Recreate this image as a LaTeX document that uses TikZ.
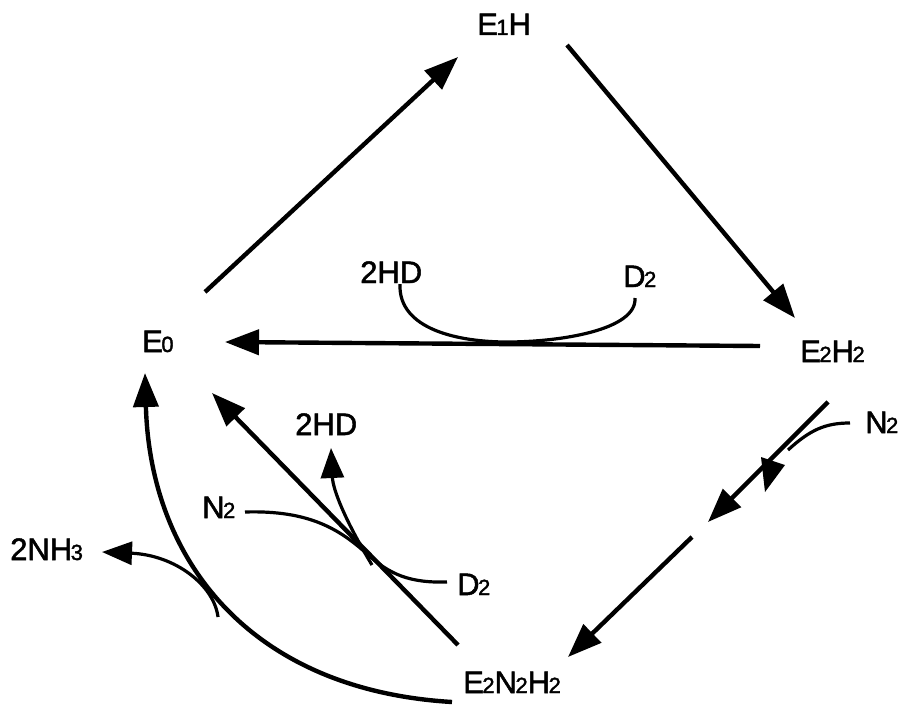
\documentclass[tikz,border=0pt]{standalone}
\usepackage{fontspec}
\setmainfont{Liberation Sans}[FakeBold=1.6]
\usetikzlibrary{arrows.meta}
\newcommand\lowd[1]{\kern-1.5pt{\fontsize{22}{22}\selectfont #1}}
\begin{document}
\begin{tikzpicture}[x=1pt,y=-1pt,
  lbl/.style={anchor=base west,inner sep=0pt,font=\fontsize{31}{31}\selectfont},
  arr/.style={line width=4.4pt,-{Triangle[length=34pt,width=25pt]}},
  crv/.style={line width=3.2pt},
  crva/.style={line width=3.2pt,-{Triangle[length=30pt,width=23pt]}}]
\useasboundingbox (0,0) rectangle (900,706);
% labels
\node[lbl] (e1h) at (477,35) {E\lowd{1}H};
\node[lbl] (e0) at (142,352) {E\lowd{0}};
\node[lbl] (e2h2) at (800,362) {E\lowd{2}H\lowd{2}};
\node[lbl] (e2n2h2) at (463,693) {E\lowd{2}N\lowd{2}H\lowd{2}};
\node[lbl] (hdtop) at (360,283) {2HD};
\node[lbl] (dtop) at (623,287) {D\lowd{2}};
\node[lbl] (nright) at (865,433) {N\lowd{2}};
\node[lbl] (hdmid) at (295,435) {2HD};
\node[lbl] (nleft) at (202,518) {N\lowd{2}};
\node[lbl] (dlow) at (457,595) {D\lowd{2}};
\node[lbl] (nh3) at (10,560) {2NH\lowd{3}};
% coordinates
\coordinate (a1) at (205,292); \coordinate (a2) at (458,57);
\coordinate (b1) at (567,45);  \coordinate (b2) at (795,318);
\coordinate (c1) at (760,346); \coordinate (c2) at (225,342);
\coordinate (d1) at (828,402); \coordinate (d2) at (708,522);
\coordinate (f1) at (692,537); \coordinate (f2) at (568,657);
\coordinate (g1) at (458,645); \coordinate (g2) at (212,393);
\coordinate (h1) at (452,702); \coordinate (h2) at (145,373);
\coordinate (t0) at (507,342);
\coordinate (s0) at (366,553);
% main arrows
\draw[arr] (a1) -- (a2);
\draw[arr] (b1) -- (b2);
\draw[arr] (c1) -- (c2);
\draw[arr] (d1) -- (d2);
\fill (761,457) -- (785,465) -- (765,492) -- cycle;
\draw[arr] (f1) -- (f2);
\draw[arr] (g1) -- (g2);
\draw[arr] (h1) .. controls (250,690) and (150,560) .. (h2);
% side curves
\draw[crv] (400,284) .. controls (398,330) and (460,342) .. (t0)
   .. controls (560,342) and (637,330) .. (635,298);
\draw[crv] (850,423) .. controls (825,423) and (810,430) .. (788,450);
\draw[crv] (245,512) .. controls (310,510) and (340,530) .. (s0)
   .. controls (390,575) and (410,583) .. (447,582);
\draw[crva] (372,565) .. controls (345,520) and (333,490) .. (331,448);
\draw[crva] (218,617) .. controls (214,585) and (175,555) .. (102,552);
\end{tikzpicture}
\end{document}
